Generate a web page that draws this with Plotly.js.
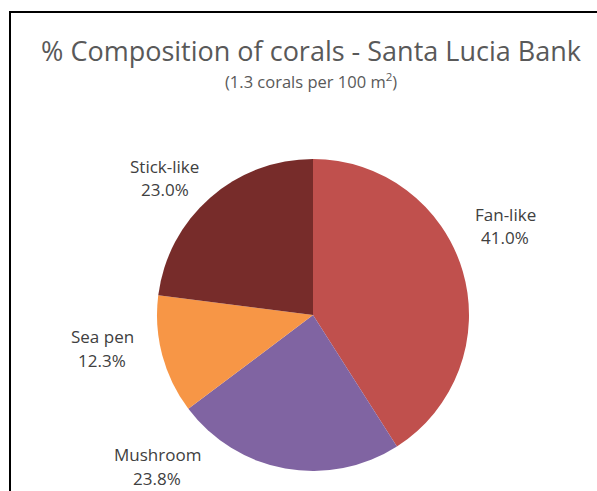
<!DOCTYPE html>
<html>
<head>
<meta charset="utf-8">
<script src="https://cdn.plot.ly/plotly-3.0.1.min.js"></script>
<style>html,body{margin:0;padding:0;background:#fff;}#chart{width:597px;height:491px;}</style>
</head>
<body>
<div id="chart"></div>
<script>
var categories = ["Fan-like", "Mushroom", "Sea pen", "Stick-like"];
var percents = [41.0, 23.8, 12.3, 23.0];
var colors = ["#C0504D", "#8064A2", "#F79646", "#772C2A"];
var titleText = "% Composition of corals - Santa Lucia Bank";
var subtitleText = "(1.3 corals per 100 m<sup>2</sup>)";

// label placement (pixels: centre x, y of name line)
var labelPos = [[505, 214], [157, 454], [102, 336], [165, 166]];
var W = 597, H = 491, lineGap = 24;

var annotations = [];
categories.forEach(function (c, i) {
  var p = labelPos[i];
  annotations.push({text: c, x: p[0] / W, y: 1 - p[1] / H, xref: "paper", yref: "paper",
    showarrow: false, xanchor: "center", yanchor: "middle",
    font: {family: "Open Sans, sans-serif", size: 17, color: "#404040"}});
  annotations.push({text: percents[i].toFixed(1) + "%", x: p[0] / W, y: 1 - (p[1] + lineGap) / H,
    xref: "paper", yref: "paper", showarrow: false, xanchor: "center", yanchor: "middle",
    font: {family: "Open Sans, sans-serif", size: 17, color: "#404040"}});
});
annotations.push({text: subtitleText, x: 311 / W, y: 1 - 81 / H, xref: "paper", yref: "paper",
  showarrow: false, xanchor: "center", yanchor: "middle",
  font: {family: "Open Sans, sans-serif", size: 16.5, color: "#595959"}});

var trace = {
  type: "pie",
  labels: categories,
  values: percents,
  sort: false,
  direction: "clockwise",
  rotation: 0,
  marker: {colors: colors, line: {width: 0}},
  textinfo: "none",
  hoverinfo: "label+percent",
  domain: {x: [156 / W, 470 / W], y: [1 - 471 / H, 1 - 159 / H]},
  showlegend: false
};

var layout = {
  width: W, height: H,
  margin: {l: 0, r: 0, t: 0, b: 0},
  paper_bgcolor: "#ffffff",
  showlegend: false,
  title: {text: titleText, x: 311 / W, xanchor: "center", y: 1 - 52 / H, yanchor: "middle",
    font: {family: "Open Sans, sans-serif", size: 27, color: "#595959"}},
  annotations: annotations,
  shapes: [{type: "rect", xref: "paper", yref: "paper",
    x0: 10 / W, x1: 1.02, y0: -0.02, y1: 1 - 12 / H,
    line: {color: "#000000", width: 2}, fillcolor: "rgba(0,0,0,0)"}]
};

Plotly.newPlot("chart", [trace], layout, {displayModeBar: false, staticPlot: true});
</script>
</body>
</html>
